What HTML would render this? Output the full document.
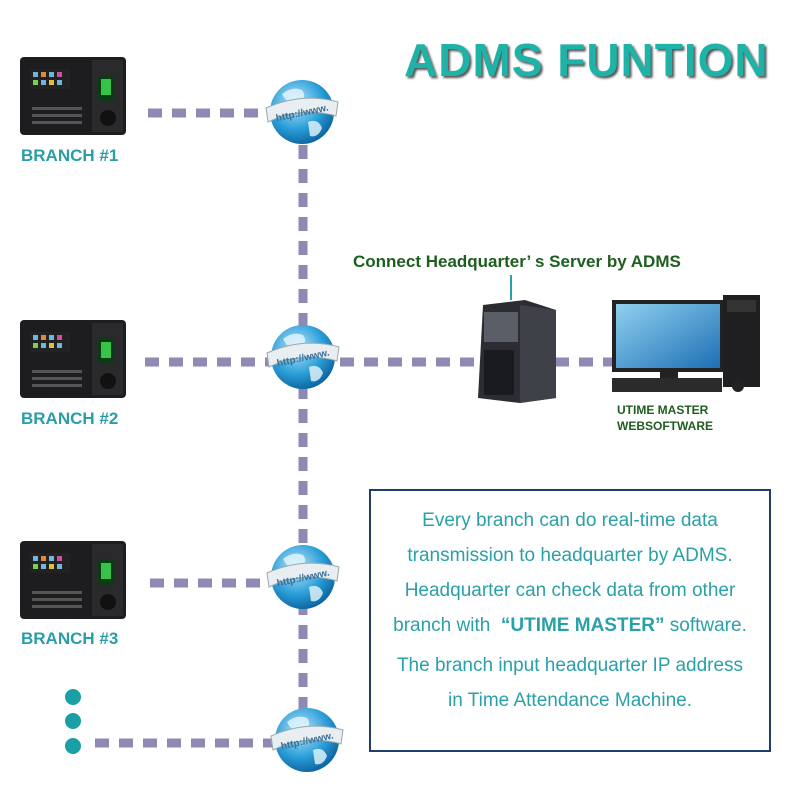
<!DOCTYPE html>
<html><head><style>
body{margin:0;width:799px;height:799px;background:#fff;position:relative;overflow:hidden;font-family:"Liberation Sans",sans-serif}
.a{position:absolute}
.br{position:absolute;color:#2a9ea6;font-weight:bold;font-size:17px}
.txt{position:absolute;left:372px;width:396px;text-align:center;color:#2aa0a8;font-size:19px;white-space:nowrap}
</style></head><body>
<svg class="a" style="left:0;top:0" width="799" height="799">
<defs>
<radialGradient id="g" cx="0.4" cy="0.35" r="0.7"><stop offset="0" stop-color="#bfe8fb"/><stop offset="0.6" stop-color="#2a9ed8"/><stop offset="1" stop-color="#0a5f9a"/></radialGradient>
<linearGradient id="scr" x1="0" y1="0" x2="1" y2="1"><stop offset="0" stop-color="#8fd0f0"/><stop offset="1" stop-color="#1d6fb4"/></linearGradient>
<g id="dev">
<rect x="0" y="0" width="106" height="78" rx="4" fill="#1d1d1f"/>
<rect x="72" y="3" width="31" height="72" fill="#2a2a2c"/>
<rect x="10" y="12" width="40" height="20" fill="#222"/>
<g fill="#6fb6e0"><rect x="13" y="15" width="5" height="5"/><rect x="21" y="15" width="5" height="5" fill="#e08b3a"/><rect x="29" y="15" width="5" height="5"/><rect x="37" y="15" width="5" height="5" fill="#d04fa0"/><rect x="13" y="23" width="5" height="5" fill="#7ad04f"/><rect x="21" y="23" width="5" height="5"/><rect x="29" y="23" width="5" height="5" fill="#e0c03a"/><rect x="37" y="23" width="5" height="5"/></g>
<rect x="78" y="18" width="16" height="26" rx="3" fill="#0c3a14"/><rect x="81" y="22" width="10" height="16" fill="#38c24a"/>
<circle cx="88" cy="61" r="8" fill="#111"/>
<g fill="#555"><rect x="12" y="50" width="50" height="3"/><rect x="12" y="57" width="50" height="3"/><rect x="12" y="64" width="50" height="3"/></g>
</g>
<g id="glb">
<circle r="32" fill="url(#g)"/>
<path d="M-20,-18 q10,-8 20,-4 q6,8 -4,12 q-10,4 -16,-8z M6,10 q10,-4 14,6 q-4,10 -12,8z" fill="#e6f6fd" opacity=".8"/>
<path d="M-36,-4 Q0,-20 36,-10 L34,4 Q0,-6 -34,10z" fill="#e8eef2" stroke="#9aa" stroke-width="1"/>
<text x="0" y="4" font-size="10" font-weight="bold" fill="#3b6f96" text-anchor="middle" transform="rotate(-12)" font-family="Liberation Sans">http://www.</text>
</g>
</defs>
<g stroke="#8f8ab3" stroke-width="9" stroke-dasharray="14 10" fill="none">
<line x1="148" y1="113" x2="268" y2="113"/>
<line x1="303" y1="145" x2="303" y2="725"/>
<line x1="145" y1="362" x2="270" y2="362"/>
<line x1="340" y1="362" x2="480" y2="362"/>
<line x1="555" y1="362" x2="612" y2="362"/>
<line x1="150" y1="583" x2="270" y2="583"/>
<line x1="95" y1="743" x2="275" y2="743"/>
</g>
<use href="#dev" x="20" y="57"/><use href="#dev" x="20" y="320"/><use href="#dev" x="20" y="541"/>
<use href="#glb" x="302" y="112"/><use href="#glb" x="303" y="357"/><use href="#glb" x="303" y="577"/><use href="#glb" x="307" y="740"/>
<g fill="#1a9fa5"><circle cx="73" cy="697" r="8"/><circle cx="73" cy="721" r="8"/><circle cx="73" cy="746" r="8"/></g>
<line x1="511" y1="275" x2="511" y2="300" stroke="#2aa0a8" stroke-width="2"/>
<polygon points="483,305 525,300 556,310 556,398 520,403 478,398" fill="#2b2d33"/>
<polygon points="520,305 556,310 556,398 520,403" fill="#3e4148"/>
<rect x="484" y="312" width="34" height="30" fill="#5a5e66"/>
<rect x="484" y="350" width="30" height="45" fill="#1a1b1f"/>
<rect x="612" y="300" width="112" height="72" fill="#222"/>
<rect x="616" y="304" width="104" height="64" fill="url(#scr)"/>
<rect x="660" y="372" width="18" height="10" fill="#222"/>
<rect x="612" y="378" width="110" height="14" fill="#2b2b2b"/>
<rect x="723" y="295" width="37" height="92" fill="#1f1f22"/>
<rect x="727" y="300" width="29" height="12" fill="#333"/>
<circle cx="738" cy="386" r="6" fill="#222"/>
</svg>
<div class="a" style="left:404px;top:34px;font-size:46px;font-weight:bold;color:#1fb3a8;letter-spacing:1px;text-shadow:2px 2px 2px #555;white-space:nowrap;line-height:52px">ADMS FUNTION</div>
<div class="br" style="left:21px;top:146px">BRANCH #1</div>
<div class="br" style="left:21px;top:409px">BRANCH #2</div>
<div class="br" style="left:21px;top:629px">BRANCH #3</div>
<div class="a" style="left:353px;top:252px;color:#1e5e1e;font-weight:bold;font-size:17px;white-space:nowrap">Connect Headquarter’ s Server by ADMS</div>
<div class="a" style="left:617px;top:402px;color:#1e5e1e;font-weight:bold;font-size:12px;line-height:16px">UTIME MASTER<br>WEBSOFTWARE</div>
<div class="a" style="left:369px;top:489px;width:398px;height:259px;border:2px solid #1f3e6e"></div>
<div class="txt" style="top:510px">Every branch can do real-time data</div>
<div class="txt" style="top:545px">transmission to headquarter by ADMS.</div>
<div class="txt" style="top:580px">Headquarter can check data from other</div>
<div class="txt" style="top:615px">branch with &nbsp;<b>“UTIME MASTER”</b> software.</div>
<div class="txt" style="top:655px">The branch input headquarter IP address</div>
<div class="txt" style="top:690px">in Time Attendance Machine.</div>
</body></html>
